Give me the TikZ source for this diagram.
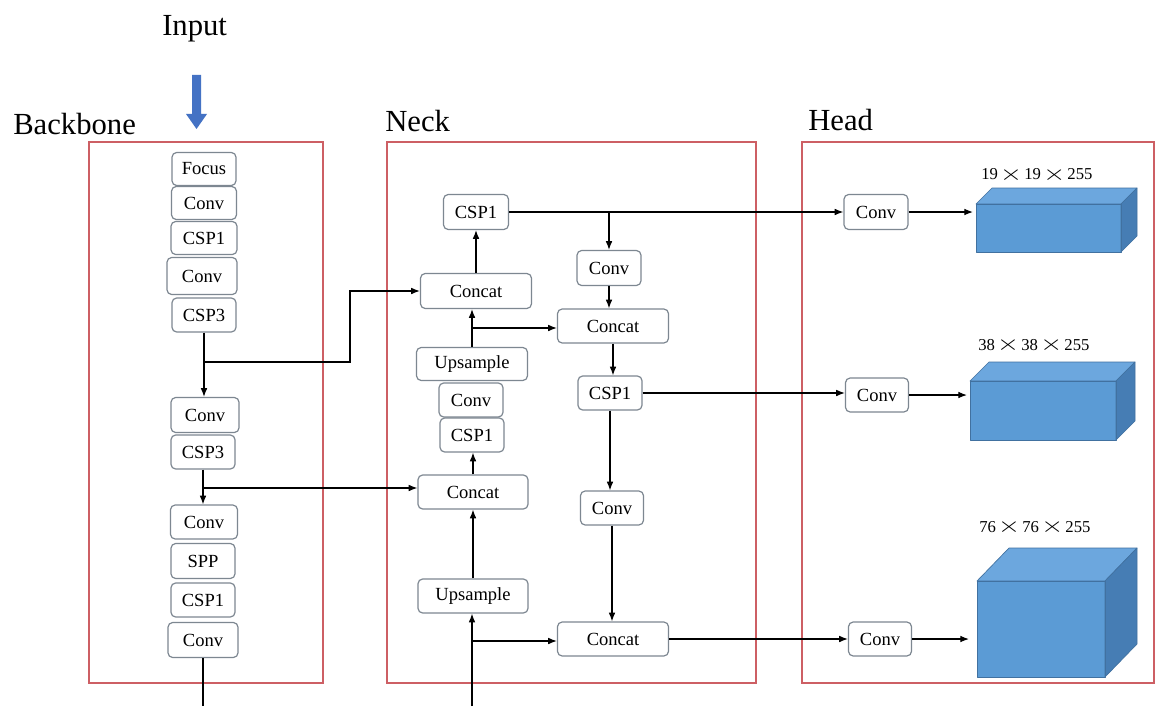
\documentclass[tikz,border=0pt]{standalone}
\usepackage{fontspec}
\setmainfont{Liberation Serif}
\usepackage{graphicx}
\usetikzlibrary{arrows.meta}
\definecolor{redbox}{RGB}{205,95,100}
\definecolor{nodeedge}{RGB}{125,135,145}
\definecolor{cubefront}{RGB}{91,155,213}
\definecolor{cubetop}{RGB}{108,167,222}
\definecolor{cubeside}{RGB}{70,125,180}
\definecolor{cubeedge}{RGB}{65,113,160}
\definecolor{inputblue}{RGB}{68,114,196}
\newcommand\tmul{\hspace{1.5pt}\raisebox{-0.6pt}{\scalebox{1.8}[1.35]{$\times$}}\hspace{1.5pt}}
\begin{document}
\begin{tikzpicture}[x=0.75pt,y=-0.75pt,
  blk/.style={draw=nodeedge, line width=0.9pt, rounded corners=3.5pt, fill=white, inner sep=0pt, font=\fontsize{13.9}{16}\selectfont},
  panel/.style={draw=redbox, line width=1.1pt},
  arr/.style={draw=black, line width=0.9pt, -{Latex[length=6.5pt,width=5pt]}},
  ln/.style={draw=black, line width=0.9pt},
  lbl/.style={font=\fontsize{23}{27}\selectfont, inner sep=0pt},
  dim/.style={font=\fontsize{12.5}{15}\selectfont, inner sep=0pt},
  cube/.style={draw=cubeedge, line width=0.5pt, line join=round}]
\useasboundingbox (0,0) rectangle (1155,706);
\fill[white] (0,0) rectangle (1155,706);

% panels
\draw[panel] (89,142) rectangle (323,683);
\draw[panel] (387,142) rectangle (756,683);
\draw[panel] (802,142) rectangle (1154,683);

% labels
\node[lbl, anchor=base west] (input) at (162,36) {Input};
\node[lbl, anchor=base west] (lbb) at (13,135) {Backbone};
\node[lbl, anchor=base west] (lneck) at (385,132) {Neck};
\node[lbl, anchor=base west] (lhead) at (808,131) {Head};

% input arrow
\fill[inputblue] (192,75) -- (201,75) -- (201,114) -- (207,114) -- (196.5,129) -- (186,114) -- (192,114) -- cycle;

% backbone
\node[blk, minimum width=48pt, minimum height=24.75pt] (focus) at (204,169) {Focus};
\node[blk, minimum width=48.75pt, minimum height=24.75pt] (bconv1) at (204,203) {Conv};
\node[blk, minimum width=49.5pt, minimum height=24.75pt] (bcsp1) at (204,238) {CSP1};
\node[blk, minimum width=52.5pt, minimum height=27.75pt] (bconv2) at (202,276) {Conv};
\node[blk, minimum width=48pt, minimum height=25.5pt] (bcsp3) at (204,315) {CSP3};
\node[blk, minimum width=51pt, minimum height=26.25pt] (bconv3) at (205,415) {Conv};
\node[blk, minimum width=48pt, minimum height=25.5pt] (bcsp3b) at (203,452) {CSP3};
\node[blk, minimum width=50.25pt, minimum height=25.5pt] (bconv4) at (204,522) {Conv};
\node[blk, minimum width=48pt, minimum height=26.25pt] (spp) at (203,561) {SPP};
\node[blk, minimum width=48pt, minimum height=25.5pt] (bcsp1b) at (203,600) {CSP1};
\node[blk, minimum width=52.5pt, minimum height=26.25pt] (bconv5) at (203,640) {Conv};

% neck
\node[blk, minimum width=48.75pt, minimum height=26.25pt] (ncsp1) at (476,212) {CSP1};
\node[blk, minimum width=83.25pt, minimum height=26.25pt] (ncat1) at (476,291) {Concat};
\node[blk, minimum width=48pt, minimum height=26.25pt] (nconvA) at (609,268) {Conv};
\node[blk, minimum width=83.25pt, minimum height=25.5pt] (ncat2) at (613,326) {Concat};
\node[blk, minimum width=83.25pt, minimum height=24.75pt] (nup1) at (472,364) {Upsample};
\node[blk, minimum width=48pt, minimum height=25.5pt] (nconv) at (471,400) {Conv};
\node[blk, minimum width=48pt, minimum height=25.5pt] (ncspL) at (472,435) {CSP1};
\node[blk, minimum width=82.5pt, minimum height=25.5pt] (ncat3) at (473,492) {Concat};
\node[blk, minimum width=48pt, minimum height=25.5pt] (ncspR) at (610,393) {CSP1};
\node[blk, minimum width=47.25pt, minimum height=25.5pt] (nconvB) at (612,508) {Conv};
\node[blk, minimum width=82.5pt, minimum height=25.5pt] (nup2) at (473,596) {Upsample};
\node[blk, minimum width=83.25pt, minimum height=25.5pt] (ncat4) at (613,639) {Concat};

% head
\node[blk, minimum width=48pt, minimum height=26.25pt] (hconv1) at (876,212) {Conv};
\node[blk, minimum width=47.25pt, minimum height=25.5pt] (hconv2) at (877,395) {Conv};
\node[blk, minimum width=47.25pt, minimum height=25.5pt] (hconv3) at (880,639) {Conv};

% cuboids
\fill[cubefront] (976,204) rectangle (1121,252);
\filldraw[cube, fill=cubetop] (976,204) -- (992,188) -- (1137,188) -- (1121,204) -- cycle;
\filldraw[cube, fill=cubeside] (1121,204) -- (1137,188) -- (1137,236) -- (1121,252) -- cycle;
\draw[cube] (976,204) rectangle (1121,252);

\fill[cubefront] (970,381) rectangle (1116,440);
\filldraw[cube, fill=cubetop] (970,381) -- (989,362) -- (1135,362) -- (1116,381) -- cycle;
\filldraw[cube, fill=cubeside] (1116,381) -- (1135,362) -- (1135,421) -- (1116,440) -- cycle;
\draw[cube] (970,381) rectangle (1116,440);

\fill[cubefront] (977,581) rectangle (1105,677);
\filldraw[cube, fill=cubetop] (977,581) -- (1009,548) -- (1137,548) -- (1105,581) -- cycle;
\filldraw[cube, fill=cubeside] (1105,581) -- (1137,548) -- (1137,644) -- (1105,677) -- cycle;
\draw[cube] (977,581) rectangle (1105,677);

% dimension labels
\node[dim, anchor=base west] (d1) at (981,180) {19\tmul19\tmul255};
\node[dim, anchor=base west] (d2) at (978,350) {38\tmul38\tmul255};
\node[dim, anchor=base west] (d3) at (979,532) {76\tmul76\tmul255};

% backbone connectors
\draw[arr] (bcsp3.south) -- (bcsp3.south |- bconv3.north);
\coordinate (j1) at (bcsp3.south |- 0,362);
\coordinate (k1) at (350,362);
\draw[arr] (j1) -- (k1) |- (ncat1.west);
\draw[arr] (bcsp3b.south) -- (bcsp3b.south |- bconv4.north);
\coordinate (j2) at (bcsp3b.south |- 0,488);
\draw[arr] (j2) -- (j2 -| ncat3.west);
\coordinate (bot1) at (bconv5.south |- 0,706);
\draw[ln] (bconv5.south) -- (bot1);

% neck connectors
\coordinate (bot2) at (472,706);
\draw[arr] (bot2) -- (bot2 |- nup2.south);
\coordinate (j3) at (472,641);
\draw[arr] (j3) -- (j3 -| ncat4.west);
\draw[arr] (nup2.north) -- (nup2.north |- ncat3.south);
\draw[arr] (ncat3.north) -- (ncat3.north |- ncspL.south);
\draw[arr] (nup1.north) -- (nup1.north |- ncat1.south);
\coordinate (j4) at (nup1.north |- 0,328);
\draw[arr] (j4) -- (j4 -| ncat2.west);
\draw[arr] (ncat1.north) -- (ncat1.north |- ncsp1.south);
\draw[arr] (ncsp1.east) -- (ncsp1.east -| hconv1.west);
\coordinate (j5) at (nconvA.north |- ncsp1.east);
\draw[arr] (j5) -- (nconvA.north);
\draw[arr] (nconvA.south) -- (nconvA.south |- ncat2.north);
\draw[arr] (ncat2.south) -- (ncat2.south |- ncspR.north);
\draw[arr] (ncspR.east) -- (ncspR.east -| hconv2.west);
\draw[arr] (ncspR.south) -- (ncspR.south |- nconvB.north);
\draw[arr] (nconvB.south) -- (nconvB.south |- ncat4.north);
\draw[arr] (ncat4.east) -- (ncat4.east -| hconv3.west);

% head connectors
\coordinate (c1) at (973,212);
\coordinate (c2) at (967,395);
\coordinate (c3) at (969,639);
\draw[arr] (hconv1.east) -- (c1);
\draw[arr] (hconv2.east) -- (c2);
\draw[arr] (hconv3.east) -- (c3);
\end{tikzpicture}
\end{document}
